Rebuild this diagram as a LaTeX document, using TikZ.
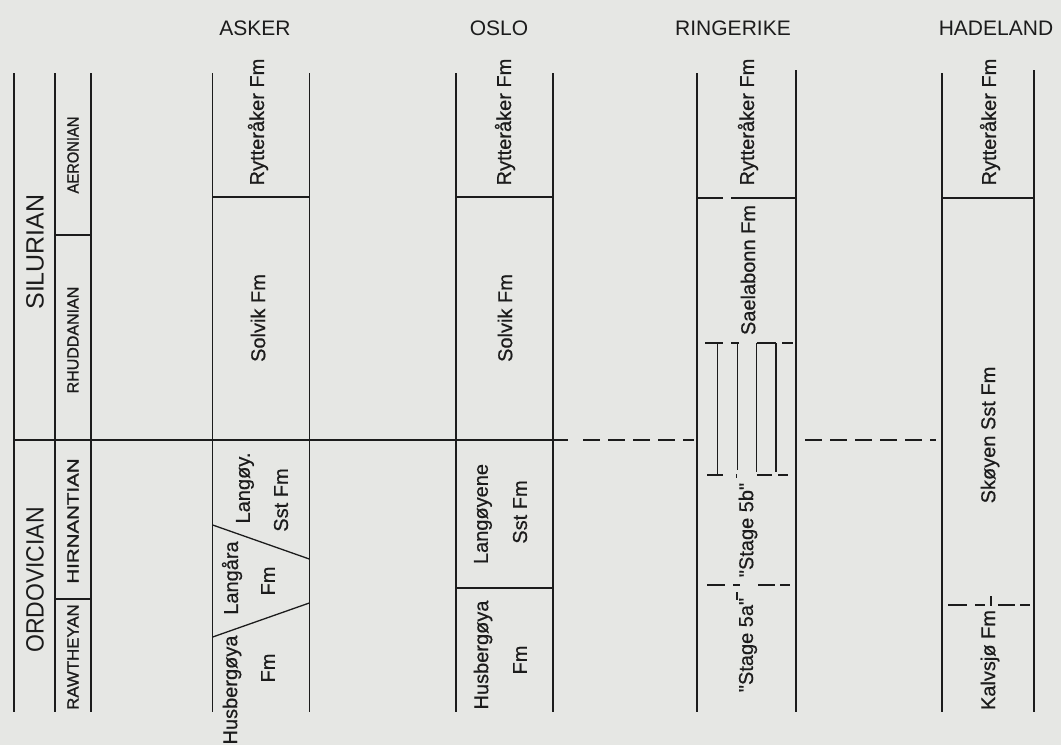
\documentclass[tikz,border=0pt]{standalone}
\usepackage{fontspec}
\setmainfont{Liberation Sans}
\newfontfamily\labfont{Liberation Sans}[FakeBold=0.6]
\newfontfamily\stgfont{Liberation Sans}[FakeBold=1.2]
\definecolor{bg}{HTML}{E6E7E4}
\definecolor{ink}{HTML}{1C1C1C}
\begin{document}
\begin{tikzpicture}[x=1pt,y=-1pt,
  ln/.style={draw=ink, line width=1.5pt},
  thin/.style={draw=ink, line width=1.3pt},
  dsh/.style={draw=ink, line width=1.5pt, dash pattern=on 17pt off 8pt},
  lbl/.style={rotate=90, text=ink, inner sep=0pt, font=\labfont\fontsize{20}{20}\selectfont},
  head/.style={text=ink, inner sep=0pt, font=\fontsize{21}{21}\selectfont},
  per/.style={rotate=90, text=ink, inner sep=0pt, font=\fontsize{25}{25}\selectfont},
  stg/.style={rotate=90, text=ink, inner sep=0pt, font=\stgfont\fontsize{16}{16}\selectfont}]
\fill[bg] (0,0) rectangle (1061,745);
\useasboundingbox (0,0) rectangle (1061,745);

% headings
\node[head] (hA) at (255,28) {ASKER};
\node[head] (hO) at (499,28) {OSLO};
\node[head] (hR) at (733,28) {RINGERIKE};
\node[head] (hH) at (996,28) {HADELAND};

% time scale column
\draw[ln] (14,73) -- (14,712);
\draw[ln] (55,73) -- (55,712);
\draw[ln] (91,73) -- (91,712);
\draw[thin] (55,235) -- (91,235);
\draw[thin] (55,599) -- (91,599);
\node[per] (sil) at (35,252) {SILURIAN};
\node[per] (ord) at (35,580) {\scalebox{0.92}[1]{ORDOVICIAN}};
\node[stg] (aer) at (73,155) {\scalebox{0.92}[1]{AERONIAN}};
\node[stg] (rhu) at (73,340) {RHUDDANIAN};
\node[stg] (hir) at (73,521) {\scalebox{1.28}[1]{HIRNANTIAN}};
\node[stg] (raw) at (73,657) {\scalebox{1.05}[1]{RAWTHEYAN}};

% main boundary
\draw[ln] (14,440) -- (568,440);
\draw[dsh] (583,440) -- (694,440);
\draw[dsh] (805,440) -- (936,440);

% ASKER
\draw[ln] (212.7,73) -- (212.7,712);
\draw[ln] (309.3,73) -- (309.3,712);
\draw[thin] (212.7,197) -- (309.3,197);
\draw[thin] (212.7,525) -- (309.3,559);
\draw[thin] (212.7,637) -- (309.3,603);
\node[lbl] (aR) at (258,122) {Rytteråker Fm};
\node[lbl] (aS) at (258,318) {Solvik Fm};
\node[lbl] (aL1) at (245,488) {Langøy.};
\node[lbl] (aL2) at (281,500) {Sst Fm};
\node[lbl] (aG1) at (232,578) {Langåra};
\node[lbl] (aG2) at (268,581) {Fm};
\node[lbl] (aH1) at (232,690) {Husbergøya};
\node[lbl] (aH2) at (268,668) {Fm};

% OSLO
\draw[ln] (456,73) -- (456,712);
\draw[ln] (553,73) -- (553,712);
\draw[thin] (456,197) -- (553,197);
\draw[thin] (456,588) -- (553,588);
\node[lbl] (oR) at (505,122) {Rytteråker Fm};
\node[lbl] (oS) at (505,318) {Solvik Fm};
\node[lbl] (oL1) at (483,514) {Langøyene};
\node[lbl] (oL2) at (520,512) {Sst Fm};
\node[lbl] (oH1) at (483,655) {Husbergøya};
\node[lbl] (oH2) at (520,660) {Fm};

% RINGERIKE
\draw[ln] (697,73) -- (697,712);
\draw[ln] (796,70) -- (796,712);
\draw[thin] (697,198) -- (723,198);
\draw[thin] (731,198) -- (796,198);
% upper dashed level
\draw[thin] (705,343) -- (723,343);
\draw[thin] (731,343) -- (739,343);
\draw[thin] (756.7,343) -- (776,343);
\draw[thin] (782,343) -- (793,343);
% lower dashed level
\draw[thin] (707,475) -- (723,475);
\draw[thin] (736.5,474) -- (736.5,478);
\draw[thin] (757,475) -- (772,475);
\draw[thin] (778,475) -- (788,475);
% verticals
\draw[thin] (717.7,343) -- (717.7,475);
\draw[thin] (737.7,343) -- (737.7,470);
\draw[thin] (756.7,343) -- (756.7,472);
\draw[thin] (776,343) -- (776,472);
% stage 5a/5b boundary
\draw[thin] (707,585) -- (725,585);
\draw[thin] (733,585) -- (740,585);
\draw[thin] (758,585) -- (775,585);
\draw[thin] (780,585) -- (790,585);
\draw[thin] (737,592) -- (737,600);
\node[lbl] (rR) at (748,122) {Rytteråker Fm};
\node[lbl] (rS) at (748,270) {Saelabonn Fm};
\node[lbl] (r5b) at (748,530) {"Stage 5b"};
\node[lbl] (r5a) at (748,645) {"Stage 5a"};

% HADELAND
\draw[ln] (942,73) -- (942,712);
\draw[ln] (1034,70) -- (1034,712);
\draw[thin] (942,198) -- (1034,198);
\draw[thin] (948,605) -- (967,605);
\draw[thin] (975,605) -- (985,605);
\draw[thin] (998,605) -- (1015,605);
\draw[thin] (1020,605) -- (1030,605);
\draw[thin] (991,596) -- (991,606);
\node[lbl] (hdR) at (990,122) {Rytteråker Fm};
\node[lbl] (hdS) at (990,435) {Skøyen Sst Fm};
\node[lbl] (hdK) at (990,660) {Kalvsjø Fm};
\end{tikzpicture}
\end{document}
